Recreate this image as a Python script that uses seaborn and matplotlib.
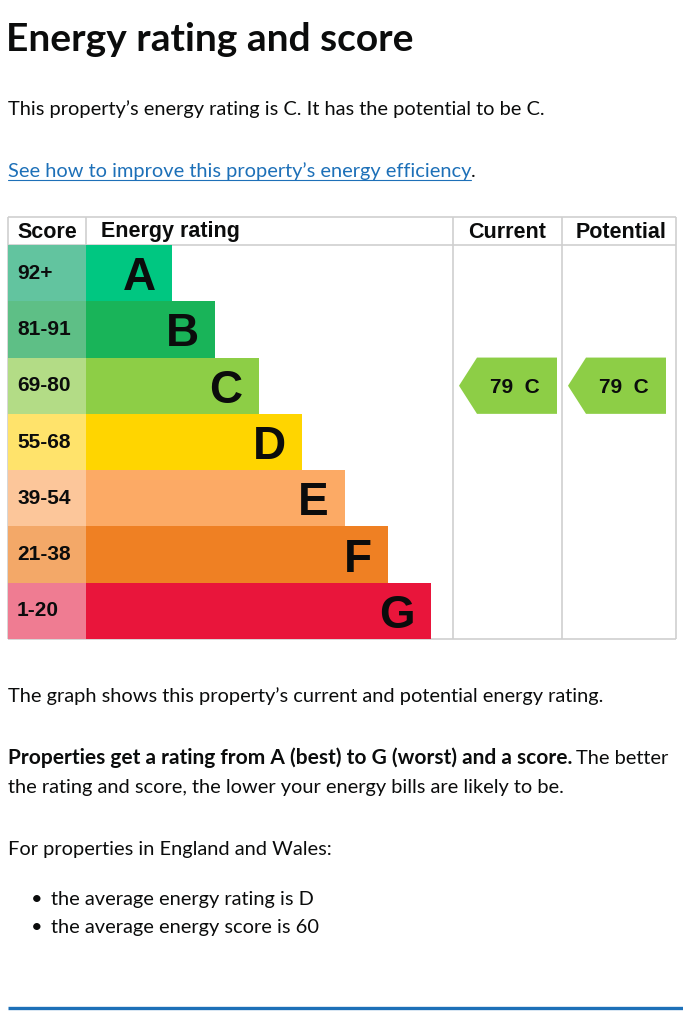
import matplotlib
matplotlib.use("Agg")
import matplotlib.pyplot as plt
import seaborn as sns
from matplotlib.patches import Polygon

# ==========================
# DATA
# ==========================

bands = ["A", "B", "C", "D", "E", "F", "G"]
score_ranges = ["92+", "81-91", "69-80", "55-68", "39-54", "21-38", "1-20"]
bar_lengths = [2, 3, 4, 5, 6, 7, 8]

bar_colors = ["#00c781", "#19b459", "#8dce46", "#ffd500",
              "#fcaa65", "#ef8023", "#e9153b"]
score_colors = ["#62c49f", "#5ebf86", "#b3dc86", "#ffe36b",
                "#fcc69a", "#f3a868", "#ef7c92"]

current_score, current_band = 79, "C"
potential_score, potential_band = 79, "C"

# ==========================
# PAGE SETUP
# ==========================

W, H = 683, 1024
sns.set_theme(style="white")
body_font = ["Lato", "DejaVu Sans"]
table_font = ["Liberation Sans", "DejaVu Sans"]
plt.rcParams["font.family"] = body_font
ink = "#0b0c0c"
fs = 14.4

fig = plt.figure(figsize=(W / 100, H / 100), dpi=100)
fig.patch.set_facecolor("white")


def box(x0, y0, x1, y1):
    return [x0 / W, 1 - y1 / H, (x1 - x0) / W, (y1 - y0) / H]


page = fig.add_axes([0, 0, 1, 1])
page.set_xlim(0, W)
page.set_ylim(H, 0)
page.axis("off")

# table geometry (pixels)
TL, TR, TT, TH, TB = 8, 676, 217, 245, 639
SX, CX, PX = 86, 453, 562
grid = "#cfcfcf"

# ==========================
# TEXT ABOVE
# ==========================

page.text(6, 51, "Energy rating and score", fontsize=28, fontweight="bold",
          color=ink, va="baseline")
page.text(8, 115, "This property\u2019s energy rating is C. It has the potential to be C.",
          fontsize=fs, color=ink, va="baseline")
link = page.text(8, 177, "See how to improve this property\u2019s energy efficiency",
                 fontsize=fs, color="#1d70b8", va="baseline")
fig.canvas.draw()
r = fig.canvas.get_renderer()
bb = link.get_window_extent(r)
page.plot([8, bb.x1], [180, 180], color="#1d70b8", lw=0.8)
page.text(bb.x1, 177, ".", fontsize=fs, color=ink, va="baseline")

# ==========================
# TABLE GRID + HEADER
# ==========================

for xs, ys in [([TL, TR], [TT, TT]), ([TL, TR], [TH, TH]), ([TL, TR], [TB, TB]),
               ([TL, TL], [TT, TB]), ([TR, TR], [TT, TB]), ([SX, SX], [TT, TH]),
               ([CX, CX], [TT, TB]), ([PX, PX], [TT, TB])]:
    page.plot(xs, ys, color=grid, lw=1.2, solid_capstyle="butt")

hdr_y = (TT + TH) / 2 + 1
page.text(17, hdr_y, "Score", family=table_font, fontsize=15.5, fontweight="bold",
          va="center", color=ink)
page.text(101, hdr_y, "Energy rating", family=table_font, fontsize=15.5,
          fontweight="bold", va="center", color=ink)
page.text((CX + PX) / 2, hdr_y, "Current", family=table_font, fontsize=15.5,
          fontweight="bold", va="center", ha="center", color=ink)
page.text((PX + TR) / 2 + 2, hdr_y, "Potential", family=table_font, fontsize=15.5,
          fontweight="bold", va="center", ha="center", color=ink)

# ==========================
# SCORE COLUMN
# ==========================

score_ax = fig.add_axes(box(TL, TH, SX, TB))
sns.barplot(x=[1] * len(bands), y=score_ranges, hue=score_ranges,
            palette=score_colors, saturation=1, orient="h", width=1.0,
            linewidth=0, legend=False, ax=score_ax)
score_ax.set_xlim(0, 1)
score_ax.set_ylim(len(bands) - 0.5, -0.5)
score_ax.axis("off")
for i, lab in enumerate(score_ranges):
    score_ax.annotate(lab, xy=(0, i), xytext=(6.5, 0), textcoords="offset points",
                      family=table_font, fontsize=15, fontweight="bold",
                      ha="left", va="center", color=ink)

# ==========================
# RATING BARS
# ==========================

bar_ax = fig.add_axes(box(SX, TH, CX, TB))
sns.barplot(x=bar_lengths, y=bands, hue=bands, palette=bar_colors,
            saturation=1, orient="h", width=1.0, linewidth=0, legend=False,
            ax=bar_ax)
bar_ax.set_xlim(0, (CX - SX) / 43.125)
bar_ax.set_ylim(len(bands) - 0.5, -0.5)
bar_ax.axis("off")
for i, (band, length) in enumerate(zip(bands, bar_lengths)):
    bar_ax.annotate(band, xy=(length, i), xytext=(-11.5, 0),
                    textcoords="offset points", family=table_font,
                    fontsize=33, fontweight="bold", ha="right",
                    va="center_baseline", color=ink)

# ==========================
# CURRENT / POTENTIAL ARROWS
# ==========================

rate_ax = fig.add_axes(box(CX, TH, TR, TB))
rate_ax.set_xlim(0, TR - CX)
rate_ax.set_ylim(len(bands) - 0.5, -0.5)
rate_ax.axis("off")

for col, score, band in [(0, current_score, current_band),
                         (PX - CX, potential_score, potential_band)]:
    idx = bands.index(band)
    pts = [(col + 6, idx), (col + 24, idx - 0.5), (col + 104, idx - 0.5),
           (col + 104, idx + 0.5), (col + 24, idx + 0.5)]
    rate_ax.add_patch(Polygon(pts, closed=True, facecolor=bar_colors[idx],
                              edgecolor="none"))
    rate_ax.text(col + 62, idx, f"{score}  {band}", family=table_font,
                 fontsize=15, fontweight="bold", ha="center",
                 va="center_baseline", color=ink)

# ==========================
# TEXT BELOW
# ==========================

page.text(8, 702, "The graph shows this property\u2019s current and potential energy rating.",
          fontsize=fs, color=ink, va="baseline")
bold = page.text(8, 764, "Properties get a rating from A (best) to G (worst) and a score.",
                 fontsize=15, fontweight="bold", color=ink, va="baseline")
fig.canvas.draw()
bb = bold.get_window_extent(fig.canvas.get_renderer())
page.text(bb.x1 + 4, 764, "The better", fontsize=fs, color=ink, va="baseline")
page.text(8, 793, "the rating and score, the lower your energy bills are likely to be.",
          fontsize=fs, color=ink, va="baseline")
page.text(8, 855, "For properties in England and Wales:", fontsize=fs,
          color=ink, va="baseline")
for y, line in [(905, "the average energy rating is D"),
                (933, "the average energy score is 60")]:
    page.text(31, y, "\u2022", fontsize=fs, color=ink, va="baseline")
    page.text(51, y, line, fontsize=fs, color=ink, va="baseline")

page.plot([8, W], [1008, 1008], color="#1d70b8", lw=2.4, solid_capstyle="butt")

plt.savefig("out.png", dpi=100)
plt.close()
